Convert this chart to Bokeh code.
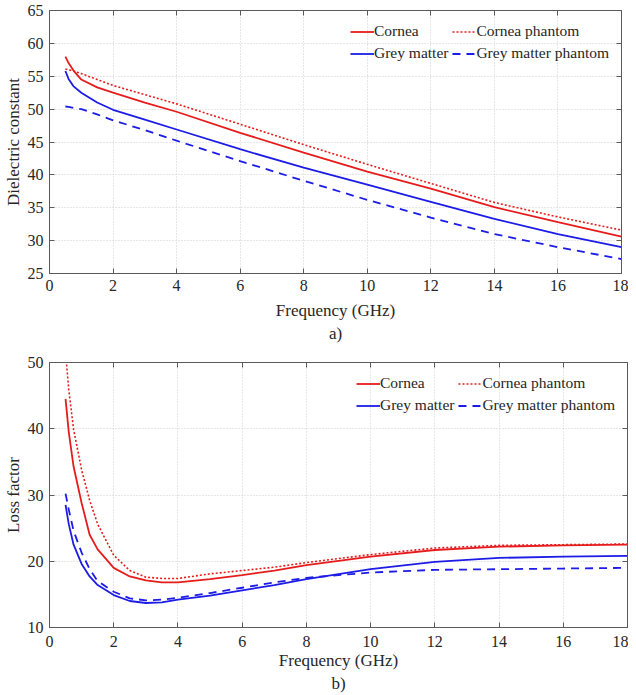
from bokeh.plotting import figure
from bokeh.layouts import column
from bokeh.models import LinearAxis, FixedTicker, Range1d, Legend, LegendItem
from bokeh.embed import file_html
from bokeh.resources import INLINE

FONT = "Liberation Serif"
RED = "#e61c1c"
BLUE = "#1c1ce6"
TEXT = "#262626"
LINE = "#5a5a5a"
GRID = "#cfcfcf"

# ---- a) dielectric constant ----
freq_eps = [0.5, 0.6, 0.75, 1, 1.5, 2, 3, 4, 6, 8, 10, 12, 14, 16, 18]
cornea_eps = [58.0, 57.0, 55.9, 54.5, 53.3, 52.5, 51.0, 49.6, 46.4, 43.4, 40.5, 37.9, 35.1, 32.8, 30.6]
cornea_ph_eps = [56.1, 56.0, 55.8, 55.4, 54.5, 53.6, 52.2, 50.8, 47.7, 44.6, 41.6, 38.7, 35.8, 33.6, 31.6]
grey_eps = [55.8, 54.6, 53.5, 52.5, 51.0, 49.9, 48.4, 46.9, 43.9, 41.1, 38.5, 35.9, 33.3, 31.0, 29.0]
grey_ph_eps = [50.4, 50.35, 50.2, 50.0, 49.2, 48.3, 46.8, 45.2, 42.1, 39.1, 36.2, 33.5, 31.0, 29.0, 27.2]

# ---- b) loss factor ----
freq_loss = [0.5, 0.6, 0.75, 1, 1.25, 1.5, 2, 2.5, 3, 3.5, 4, 5, 6, 7, 8, 10, 12, 14, 16, 18]
cornea_loss = [44.5, 39.5, 34.3, 28.8, 24.0, 21.8, 19.0, 17.7, 17.1, 16.8, 16.8, 17.3, 17.9, 18.6, 19.4, 20.7, 21.7, 22.2, 22.4, 22.5]
cornea_ph_loss = [51.5, 45.9, 39.9, 33.8, 29.2, 25.6, 20.9, 18.6, 17.6, 17.4, 17.4, 18.1, 18.6, 19.1, 19.8, 21.0, 22.0, 22.4, 22.5, 22.6]
grey_loss = [28.5, 25.6, 22.5, 19.6, 17.7, 16.4, 14.9, 14.0, 13.7, 13.8, 14.2, 14.8, 15.6, 16.4, 17.3, 18.8, 19.9, 20.5, 20.7, 20.8]
grey_ph_loss = [30.2, 27.8, 24.6, 21.3, 18.8, 17.0, 15.4, 14.4, 14.1, 14.2, 14.5, 15.2, 16.0, 16.8, 17.5, 18.3, 18.7, 18.8, 18.9, 19.0]

labels = ["Cornea", "Cornea phantom", "Grey matter", "Grey matter phantom"]
x_ticks = [0, 2, 4, 6, 8, 10, 12, 14, 16, 18]


def make_plot(frame_w, frame_h, y_range, y_ticks, ylabel, panel, series, freq,
              mb_top, mb_bottom, mb_right, tick_standoff, label_standoff):
    p = figure(frame_width=frame_w, frame_height=frame_h, output_backend="svg",
               toolbar_location=None,
               x_range=Range1d(0, 18), y_range=Range1d(*y_range),
               min_border_left=41, min_border_right=mb_right,
               min_border_top=mb_top, min_border_bottom=mb_bottom)
    p.outline_line_color = LINE
    p.outline_line_width = 1
    for ax, ticks in ((p.xaxis[0], x_ticks), (p.yaxis[0], y_ticks)):
        ax.ticker = FixedTicker(ticks=ticks)
        ax.major_tick_in = 5
        ax.major_tick_out = 0
        ax.minor_tick_in = 0
        ax.minor_tick_out = 0
        ax.axis_line_color = LINE
        ax.major_tick_line_color = LINE
        ax.major_label_text_font = FONT
        ax.major_label_text_font_size = "16px"
        ax.major_label_text_color = TEXT
        ax.axis_label_text_font = FONT
        ax.axis_label_text_font_size = "17px"
        ax.axis_label_text_font_style = "normal"
        ax.axis_label_text_color = TEXT
    # x-axis label with the panel tag on a second line
    p.xaxis[0].axis_label = "Frequency (GHz)\n" + panel
    p.xaxis[0].axis_label_text_line_height = 1.25
    p.yaxis[0].axis_label = ylabel
    p.xaxis[0].major_label_standoff = tick_standoff
    p.xaxis[0].axis_label_standoff = label_standoff
    p.yaxis[0].major_label_standoff = 6
    p.yaxis[0].axis_label_standoff = 2
    # mirrored ticks (no labels)
    for loc, ticks in (("above", x_ticks), ("right", y_ticks)):
        ax = LinearAxis(ticker=FixedTicker(ticks=ticks), major_tick_in=5, major_tick_out=0,
                        minor_tick_in=0, minor_tick_out=0, major_label_text_font_size="0px",
                        major_label_overrides={t: "" for t in ticks},
                        major_label_standoff=0, axis_line_color=LINE, major_tick_line_color=LINE)
        p.add_layout(ax, loc)
    for g in (p.xgrid[0], p.ygrid[0]):
        g.grid_line_color = GRID
        g.grid_line_dash = "1 2"
        g.grid_line_width = 1
    p.xgrid[0].ticker = FixedTicker(ticks=x_ticks)
    p.ygrid[0].ticker = FixedTicker(ticks=y_ticks)

    styles = [(RED, "solid", 1.8), (RED, "2 2", 1.6), (BLUE, "solid", 1.8), (BLUE, "8 6", 1.8)]
    rends = []
    for ys, (c, d, w) in zip(series, styles):
        rends.append(p.line(freq, ys, line_color=c, line_dash=d, line_width=w))
    legend = Legend(items=[LegendItem(label=l, renderers=[r]) for l, r in zip(labels, rends)],
                    location="top_right", orientation="horizontal", ncols=2,
                    label_text_font=FONT, label_text_font_size="15.5px", label_text_color=TEXT,
                    glyph_width=24, glyph_height=15, label_height=15, label_standoff=0,
                    spacing=4, padding=2, margin=12, border_line_color=None,
                    background_fill_alpha=0)
    p.add_layout(legend)
    return p


p1 = make_plot(572, 263, (25, 65), [25, 30, 35, 40, 45, 50, 55, 60, 65], "Dielectric constant", "a)",
               [cornea_eps, cornea_ph_eps, grey_eps, grey_ph_eps], freq_eps,
               mb_top=10, mb_bottom=20, mb_right=7, tick_standoff=6, label_standoff=7)
p2 = make_plot(578, 265, (10, 50), [10, 20, 30, 40, 50], "Loss factor", "b)",
               [cornea_loss, cornea_ph_loss, grey_loss, grey_ph_loss], freq_loss,
               mb_top=16, mb_bottom=20, mb_right=1, tick_standoff=8, label_standoff=1)

layout = column(p1, p2, spacing=0)
open("out.html", "w").write(file_html(layout, INLINE))
